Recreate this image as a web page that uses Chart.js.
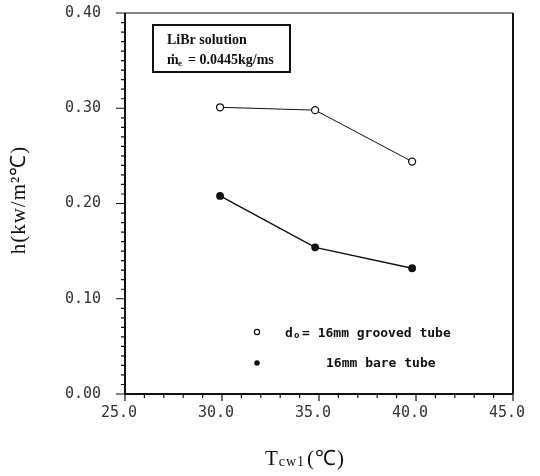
<!DOCTYPE html>
<html>
<head>
<meta charset="utf-8">
<script src="https://cdn.jsdelivr.net/npm/chart.js@4/dist/chart.umd.min.js"></script>
<style>
  body { margin: 0; background: #fff; }
  canvas { display: block; }
</style>
</head>
<body>
<canvas id="h_chart" width="540" height="476"></canvas>
<script>
// values
const grooved_x = [29.9, 34.8, 39.8];
const grooved_y = [0.301, 0.298, 0.244];
const bare_x = [29.9, 34.8, 39.8];
const bare_y = [0.208, 0.154, 0.132];

const x_ticks = [25, 30, 35, 40, 45];
const x_tick_labels = ["25.0", "30.0", "35.0", "40.0", "45.0"];
const y_ticks = [0, 0.1, 0.2, 0.3, 0.4];
const y_tick_labels = ["0.00", "0.10", "0.20", "0.30", "0.40"];

const grooved_label = "16mm grooved tube";
const bare_label = "16mm bare tube";

const ink = "#111";

function toPoints(xs, ys)
{
    return xs.map((x, i) => ({ x: x, y: ys[i] }));
}

// tick marks, frame, legend and titles
const figure_plugin =
{
    id: "figure_plugin",
    afterDraw(chart)
    {
        const ctx = chart.ctx;
        const area = chart.chartArea;
        const xs = chart.scales.x;
        const ys = chart.scales.y;
        ctx.save();
        ctx.strokeStyle = ink;

        // frame
        ctx.lineWidth = 1.2;
        ctx.beginPath();
        ctx.moveTo(area.left, area.top);
        ctx.lineTo(area.right, area.top);
        ctx.stroke();
        ctx.lineWidth = 2;
        ctx.beginPath();
        ctx.moveTo(area.right, area.top);
        ctx.lineTo(area.right, area.bottom);
        ctx.moveTo(area.left, area.top);
        ctx.lineTo(area.left, area.bottom);
        ctx.lineTo(area.right, area.bottom);
        ctx.stroke();

        // minor and major ticks
        ctx.lineWidth = 1.2;
        ctx.beginPath();
        for (let v = 25; v <= 45; v++)
        {
            const px = xs.getPixelForValue(v);
            const len = (v % 5 === 0) ? 7 : 4;
            ctx.moveTo(px, area.bottom);
            ctx.lineTo(px, area.bottom + len);
        }
        for (let k = 0; k <= 40; k++)
        {
            const py = ys.getPixelForValue(k / 100);
            const len = (k % 10 === 0) ? 9 : 4;
            ctx.moveTo(area.left, py);
            ctx.lineTo(area.left - len, py);
        }
        ctx.stroke();

        // LiBr box
        ctx.lineWidth = 2;
        ctx.strokeRect(153, 25, 137, 47);
        ctx.fillStyle = ink;
        ctx.font = "bold 14px 'Liberation Serif'";
        ctx.textBaseline = "alphabetic";
        ctx.textAlign = "left";
        ctx.fillText("LiBr solution", 167, 44);
        ctx.fillText("\u1E41", 167, 64);
        ctx.font = "bold 9px 'Liberation Serif'";
        ctx.fillText("e", 178, 66);
        ctx.font = "bold 14px 'Liberation Serif'";
        ctx.fillText("= 0.0445kg/ms", 188, 64);

        // legend
        ctx.font = "bold 13px 'DejaVu Sans Mono'";
        ctx.lineWidth = 1.2;
        ctx.beginPath();
        ctx.arc(257, 332, 2.6, 0, Math.PI * 2);
        ctx.stroke();
        ctx.fillText("d", 285, 337);
        ctx.font = "bold 9px 'DejaVu Sans Mono'";
        ctx.fillText("o", 294, 338);
        ctx.font = "bold 13px 'DejaVu Sans Mono'";
        ctx.fillText("= " + grooved_label, 302, 337);
        ctx.beginPath();
        ctx.arc(257, 363, 2.8, 0, Math.PI * 2);
        ctx.fill();
        ctx.fillText(bare_label, 326, 367);

        // y title
        ctx.save();
        ctx.translate(25, 200);
        ctx.rotate(-Math.PI / 2);
        ctx.textAlign = "center";
        ctx.font = "21px 'Liberation Serif'";
        ctx.letterSpacing = "1px";
        ctx.fillText("h(kw/m\u00B2\u2103)", 0, 0);
        ctx.restore();

        // x title
        ctx.letterSpacing = "1px";
        ctx.font = "21px 'Liberation Serif'";
        const w1 = ctx.measureText("T").width;
        ctx.font = "14px 'Liberation Serif'";
        const w2 = ctx.measureText("cw1").width;
        ctx.font = "21px 'Liberation Serif'";
        const w3 = ctx.measureText("(\u2103)").width;
        let tx = 305 - (w1 + w2 + 2 + w3) / 2;
        ctx.fillText("T", tx, 465);
        ctx.font = "14px 'Liberation Serif'";
        ctx.fillText("cw1", tx + w1, 466);
        ctx.font = "21px 'Liberation Serif'";
        ctx.fillText("(\u2103)", tx + w1 + w2 + 2, 465);

        ctx.restore();
    }
};

const h_chart = new Chart("h_chart",
{
    type: "line",
    data:
    {
        datasets:
        [
            {
                label: grooved_label,
                data: toPoints(grooved_x, grooved_y),
                borderColor: ink,
                borderWidth: 1,
                backgroundColor: "#fff",
                pointBorderColor: ink,
                pointBackgroundColor: "#fff",
                pointBorderWidth: 1.3,
                pointRadius: 3.5,
                fill: false,
                tension: 0
            },
            {
                label: bare_label,
                data: toPoints(bare_x, bare_y),
                borderColor: ink,
                borderWidth: 1.4,
                backgroundColor: ink,
                pointBorderColor: ink,
                pointBackgroundColor: ink,
                pointRadius: 3.2,
                fill: false,
                tension: 0
            }
        ]
    },
    options:
    {
        responsive: false,
        animation: false,
        layout:
        {
            padding: { left: 0, top: 13, right: 27, bottom: 0 }
        },
        plugins:
        {
            legend: { display: false },
            tooltip: { enabled: false }
        },
        scales:
        {
            x:
            {
                type: "linear",
                min: 25,
                max: 45,
                afterFit: (scale) =>
                {
                    scale.height = 82;
                    scale.paddingLeft = 0;
                    scale.paddingRight = 0;
                },
                afterBuildTicks: (scale) => { scale.ticks = x_ticks.map(v => ({ value: v })); },
                border: { display: false },
                grid: { display: false, drawTicks: false },
                ticks:
                {
                    padding: 10,
                    labelOffset: -6,
                    color: "#333",
                    font: { family: "DejaVu Sans Mono", size: 15 },
                    callback: (value) => x_tick_labels[x_ticks.indexOf(value)]
                }
            },
            y:
            {
                type: "linear",
                min: 0,
                max: 0.4,
                afterFit: (scale) =>
                {
                    scale.width = 125;
                    scale.paddingTop = 0;
                    scale.paddingBottom = 0;
                },
                afterBuildTicks: (scale) => { scale.ticks = y_ticks.map(v => ({ value: v })); },
                border: { display: false },
                grid: { display: false, drawTicks: false },
                ticks:
                {
                    padding: 24,
                    color: "#333",
                    font: { family: "DejaVu Sans Mono", size: 15 },
                    callback: (value) => y_tick_labels[y_ticks.indexOf(value)]
                }
            }
        }
    },
    plugins: [figure_plugin]
});
</script>
</body>
</html>
